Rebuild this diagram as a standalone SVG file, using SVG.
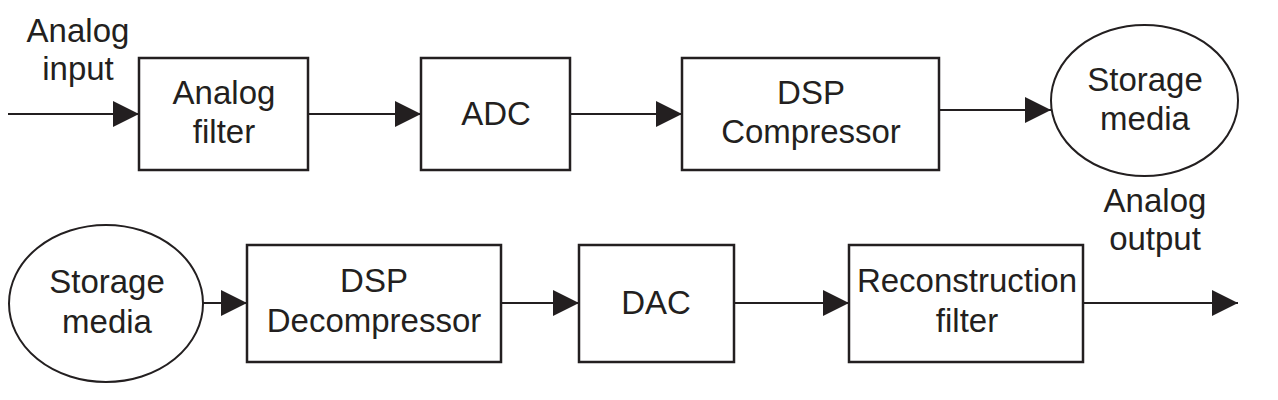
<svg xmlns="http://www.w3.org/2000/svg" width="1278" height="400" viewBox="0 0 1278 400">
  <style>
    .box { fill: #ffffff; stroke: #231f20; stroke-width: 2.5; }
    .ell { fill: #ffffff; stroke: #231f20; stroke-width: 2; }
    .lbl { font-family: "Liberation Sans", Arial, sans-serif; font-size: 33px; fill: #231f20; text-anchor: middle; }
    .wire { stroke: #231f20; stroke-width: 2.2; fill: none; marker-end: url(#arr); }
  </style>
  <defs>
    <marker id="arr" markerUnits="userSpaceOnUse" markerWidth="26" markerHeight="26" refX="26" refY="13" orient="auto">
      <path d="M0,0 L26,13 L0,26 Z" fill="#231f20"/>
    </marker>
  </defs>
  <rect width="1278" height="400" fill="#ffffff"/>

  <g id="connectors">
    <line class="wire" x1="8" y1="114" x2="139" y2="114"/>
    <line class="wire" x1="308" y1="114" x2="421" y2="114"/>
    <line class="wire" x1="570" y1="114" x2="682" y2="114"/>
    <line class="wire" x1="939" y1="110" x2="1051" y2="110"/>
    <line class="wire" x1="203" y1="303" x2="247" y2="303"/>
    <line class="wire" x1="501" y1="303" x2="579" y2="303"/>
    <line class="wire" x1="734" y1="303" x2="849" y2="303"/>
    <line class="wire" x1="1083" y1="303" x2="1238" y2="303"/>
  </g>

  <g id="label-analog-input">
    <text class="lbl" x="78" y="42">Analog</text>
    <text class="lbl" x="78" y="80">input</text>
  </g>

  <g id="analog-filter">
    <rect class="box" x="139" y="58" width="169" height="112"/>
    <text class="lbl" x="224" y="104">Analog</text>
    <text class="lbl" x="224" y="143">filter</text>
  </g>

  <g id="adc">
    <rect class="box" x="421" y="58" width="149" height="112"/>
    <text class="lbl" x="496" y="125">ADC</text>
  </g>

  <g id="dsp-compressor">
    <rect class="box" x="682" y="58" width="257" height="112"/>
    <text class="lbl" x="811" y="104">DSP</text>
    <text class="lbl" x="811" y="143">Compressor</text>
  </g>

  <g id="storage-media-1">
    <ellipse class="ell" cx="1144.5" cy="100.5" rx="93.5" ry="75.5"/>
    <text class="lbl" x="1145" y="91">Storage</text>
    <text class="lbl" x="1145" y="130">media</text>
  </g>

  <g id="label-analog-output">
    <text class="lbl" x="1155" y="212">Analog</text>
    <text class="lbl" x="1155" y="250">output</text>
  </g>

  <g id="storage-media-2">
    <ellipse class="ell" cx="106" cy="303.5" rx="97" ry="78.5"/>
    <text class="lbl" x="107" y="293">Storage</text>
    <text class="lbl" x="107" y="333">media</text>
  </g>

  <g id="dsp-decompressor">
    <rect class="box" x="247" y="245" width="254" height="117"/>
    <text class="lbl" x="374" y="292">DSP</text>
    <text class="lbl" x="374" y="332">Decompressor</text>
  </g>

  <g id="dac">
    <rect class="box" x="579" y="245" width="155" height="117"/>
    <text class="lbl" x="656" y="314">DAC</text>
  </g>

  <g id="reconstruction-filter">
    <rect class="box" x="849" y="245" width="234" height="117"/>
    <text class="lbl" x="967" y="292">Reconstruction</text>
    <text class="lbl" x="967" y="332">filter</text>
  </g>
</svg>
